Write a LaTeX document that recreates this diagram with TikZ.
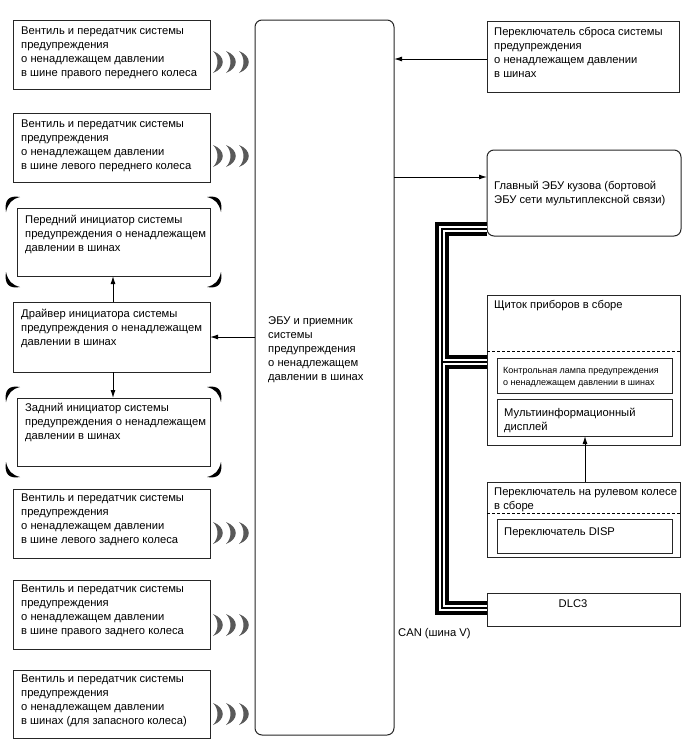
\documentclass[tikz,border=0pt]{standalone}
\usepackage{fontspec}
\setmainfont{Liberation Sans}
\usetikzlibrary{arrows.meta,calc}
\begin{document}
\begin{tikzpicture}[x=1pt,y=-1pt,
  box/.style={draw=black!85, line width=1pt, inner sep=0pt, outer sep=0pt, anchor=north west},
  rbox/.style={box, rounded corners=7pt},
  txt/.style={anchor=north west, inner sep=0pt, align=left, font=\fontsize{11.2}{14}\selectfont},
  stxt/.style={anchor=north west, inner sep=0pt, align=left, font=\fontsize{9}{11.8}\selectfont},
  arr/.style={draw=black, line width=1pt, -{Latex[length=8pt,width=5pt]}},
  dsh/.style={draw=black, line width=0.9pt, dash pattern=on 3pt off 2pt},
  wv/.pic={\fill[black!65] (0,-11) .. controls (13,-6) and (13,6) .. (0,11) .. controls (6,5) and (6,-5) .. cycle;},
  cw/.pic={\fill[black] (-11,4) .. controls (-13,-8) and (-8,-13) .. (3,-11) .. controls (-5,-9) and (-9,-5) .. cycle;}
]
\useasboundingbox[fill=white] (0,0) rectangle (688,755);
\newcommand\bx[6][box]{\node[#1, minimum width={#5-#3}, minimum height={#6-#4}] (#2) at (#3,#4) {};}
\newcommand\waves[1]{\pic at (213,#1) {wv}; \pic at (226,#1) {wv}; \pic at (239,#1) {wv};}
\newcommand\corners[4]{%
  \pic at (#1,#2) {cw}; \pic[xscale=-1] at (#3,#2) {cw};
  \pic[yscale=-1] at (#1,#4) {cw}; \pic[xscale=-1,yscale=-1] at (#3,#4) {cw};}

% left column
\bx{v1}{13}{20}{210}{89}
\node[txt] (t1) at (21,27) {Вентиль и передатчик системы\\предупреждения\\о ненадлежащем давлении\\в шине правого переднего колеса};
\waves{62}
\bx{v2}{13}{113}{210}{182}
\node[txt] (t2) at (21,120) {Вентиль и передатчик системы\\предупреждения\\о ненадлежащем давлении\\в шине левого переднего колеса};
\waves{156}

\bx{fi}{17}{208}{210}{276}
\node[txt] (t3) at (25,215) {Передний инициатор системы\\предупреждения о ненадлежащем\\давлении в шинах};
\corners{17}{208}{210}{276}

\bx{dr}{13}{302}{210}{372}
\node[txt] (t4) at (21,309) {Драйвер инициатора системы\\предупреждения о ненадлежащем\\давлении в шинах};

\bx{ri}{17}{398}{210}{466}
\node[txt] (t5) at (25,403) {Задний инициатор системы\\предупреждения о ненадлежащем\\давлении в шинах};
\corners{17}{398}{210}{466}

\bx{v6}{13}{489}{210}{558}
\node[txt] (t6) at (21,494) {Вентиль и передатчик системы\\предупреждения\\о ненадлежащем давлении\\в шине левого заднего колеса};
\waves{533}
\bx{v7}{13}{580}{210}{649}
\node[txt] (t7) at (21,585) {Вентиль и передатчик системы\\предупреждения\\о ненадлежащем давлении\\в шине правого заднего колеса};
\waves{625}
\bx{v8}{13}{670}{210}{738}
\node[txt] (t8) at (21,675) {Вентиль и передатчик системы\\предупреждения\\о ненадлежащем давлении\\в шинах (для запасного колеса)};
\waves{714}

% central ECU
\bx[rbox]{ecu}{255}{20}{394}{735}
\node[txt] (te) at (268,316) {ЭБУ и приемник\\системы\\предупреждения\\о ненадлежащем\\давлении в шинах};

% right column
\bx{rs}{487}{21}{679}{92}
\node[txt] (trs) at (494,27) {Переключатель сброса системы\\предупреждения\\о ненадлежащем давлении\\в шинах};
\bx[rbox]{mb}{487}{150}{681}{236}
\node[txt] (tmb) at (494,181) {Главный ЭБУ кузова (бортовой\\ЭБУ сети мультиплексной связи)};

\bx{cm}{487}{295}{680}{445}
\node[txt] (tcm) at (494,300) {Щиток приборов в сборе};
\draw[dsh] (cm.west |- 0,351) -- (cm.east |- 0,351);
\bx{lp}{497}{358}{672}{393}
\node[stxt] (tlp) at (503,367) {Контрольная лампа предупреждения\\о ненадлежащем давлении в шинах};
\bx{md}{497}{399}{672}{436}
\node[txt] (tmd) at (504,408) {Мультиинформационный\\дисплей};

\bx{sw}{487}{482}{680}{557}
\node[txt] (tsw) at (494,488) {Переключатель на рулевом колесе\\в сборе};
\draw[dsh] (sw.west |- 0,513) -- (sw.east |- 0,513);
\bx{ds}{497}{519}{672}{553}
\node[txt] (tds) at (504,527) {Переключатель DISP};

\bx{dlc}{487}{593}{680}{626}
\node[txt, anchor=north] (tdlc) at (573,599) {DLC3};
\node[txt] (tcan) at (398,628) {CAN (шина V)};

% arrows
\draw[arr] (rs.west |- 0,59) -- (ecu.east |- 0,59);
\draw[arr] (ecu.east |- 0,177) -- (mb.west |- 0,177);
\draw[arr] (ecu.west |- 0,337) -- (dr.east |- 0,337);
\draw[arr] (dr.north -| 113,0) -- (fi.south -| 113,0);
\draw[arr] (dr.south -| 113,0) -- (ri.north -| 113,0);
\draw[arr] (sw.north -| 585,0) -- (md.south -| 585,0);

% CAN bus
\coordinate (bt) at (442,229);
\coordinate (bb) at (442,608);
\coordinate (bm) at (442,362);
\foreach \w/\c in {13.5/black, 5.5/white, 1.5/black}{
  \draw[line width=\w pt, \c] (bt -| mb.west) -- (bt) -- (bb) -- (bb -| dlc.west)
    (bm) -- (bm -| cm.west);
}
\end{tikzpicture}
\end{document}
